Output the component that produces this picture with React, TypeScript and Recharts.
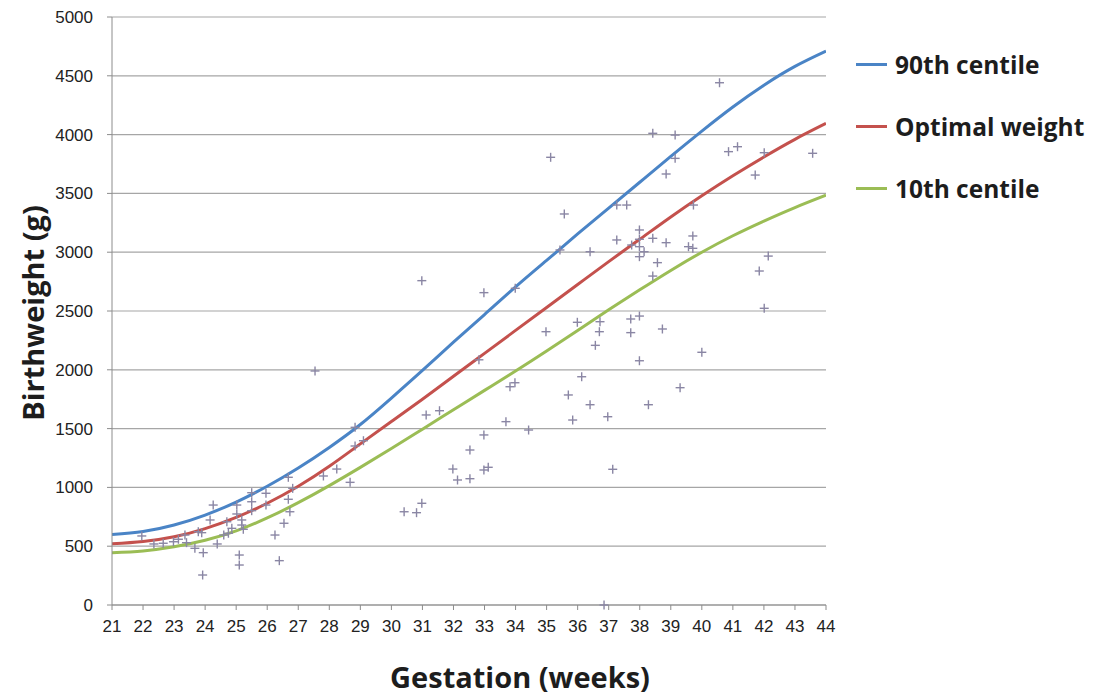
import React from 'react';
import {
  ComposedChart,
  Line,
  Scatter,
  XAxis,
  YAxis,
  CartesianGrid,
} from 'recharts';

const weeks = [21, 22, 23, 24, 25, 26, 27, 28, 29, 30, 31, 32, 33, 34, 35, 36, 37, 38, 39, 40, 41, 42, 43, 44];
const centile90 = [600, 625, 680, 765, 875, 1010, 1165, 1340, 1535, 1760, 1995, 2235, 2470, 2705, 2930, 3155, 3375, 3595, 3815, 4030, 4235, 4420, 4580, 4710];
const optimal = [520, 540, 580, 650, 745, 865, 1010, 1180, 1370, 1560, 1750, 1945, 2140, 2335, 2530, 2725, 2920, 3110, 3300, 3480, 3650, 3810, 3960, 4095];
const centile10 = [445, 460, 495, 550, 630, 740, 870, 1015, 1170, 1330, 1495, 1660, 1825, 1990, 2160, 2335, 2510, 2680, 2845, 3000, 3140, 3265, 3380, 3485];

const babyWeeks = [
  21.96, 22.35, 22.65, 22.98, 23.14, 23.35, 23.4, 23.67, 23.78, 23.89, 23.94, 23.92,
  24.26, 24.16, 24.39, 24.7, 24.75, 24.6, 24.86, 25.02, 25.02, 25.18, 25.18, 25.23,
  25.1, 25.1, 25.5, 25.5, 25.5, 25.96, 25.96, 26.25, 26.39, 26.68, 26.68, 26.73,
  26.54, 26.82, 27.54, 27.81, 28.24, 28.67, 28.83, 28.83, 29.1, 30.41, 30.81, 30.98,
  30.98, 31.12, 31.55, 31.98, 32.13, 32.53, 32.53, 32.82, 32.98, 32.98, 32.98, 33.12,
  33.69, 33.82, 33.98, 33.99, 34.42, 34.98, 35.13, 35.43, 35.57, 35.7, 35.84, 35.99,
  36.13, 36.4, 36.4, 36.57, 36.7, 36.72, 36.85, 36.97, 37.13, 37.26, 37.26, 37.58,
  37.71, 37.71, 37.74, 37.99, 37.99, 37.99, 37.99, 37.99, 37.99, 38.14, 38.28, 38.42,
  38.42, 38.42, 38.57, 38.73, 38.85, 38.85, 39.14, 39.14, 39.3, 39.57, 39.71, 39.71,
  39.73, 40.0, 40.57, 40.86, 41.15, 41.72, 41.85, 42.01, 42.01, 42.14, 43.57,
];
const babyWeights = [
  587, 519, 525, 538, 559, 595, 530, 482, 623, 615, 445, 255,
  850, 723, 519, 708, 610, 595, 652, 850, 774, 723, 680, 644,
  425, 340, 955, 878, 802, 950, 850, 595, 377, 1086, 899, 793,
  695, 992, 1990, 1097, 1156, 1043, 1511, 1352, 1397, 793, 785, 865,
  2758, 1616, 1652, 1156, 1063, 1318, 1074, 2085, 2656, 1446, 1148, 1171,
  1559, 1856, 1890, 2693, 1488, 2324, 3807, 3019, 3325, 1786, 1573, 2404,
  1941, 3004, 1703, 2208, 2324, 2409, 0, 1601, 1154, 3401, 3104, 3401,
  2432, 2316, 3061, 3189, 3110, 3047, 2962, 2457, 2077, 3004, 1703, 4011,
  3118, 2797, 2911, 2347, 3665, 3081, 3996, 3798, 1848, 3047, 3033, 3138,
  3401, 2149, 4441, 3855, 3897, 3656, 2840, 3846, 2523, 2967, 3841,
];

const weightTicks = [0, 500, 1000, 1500, 2000, 2500, 3000, 3500, 4000, 4500, 5000];

const seriesInfo = [
  { name: '90th centile', color: '#4a84c6' },
  { name: 'Optimal weight', color: '#c4514d' },
  { name: '10th centile', color: '#9bbd55' },
];

const line90 = weeks.map((w, i) => ({ week: w, weight: centile90[i] }));
const lineOpt = weeks.map((w, i) => ({ week: w, weight: optimal[i] }));
const line10 = weeks.map((w, i) => ({ week: w, weight: centile10[i] }));
const babies = babyWeeks.map((w, i) => ({ week: w, weight: babyWeights[i] }));

const titleFont = '"Open Sans", "DejaVu Sans", sans-serif';
const tickFont = '"Liberation Sans", Arial, sans-serif';

const Cross = (props: any) => {
  const { cx, cy } = props;
  if (cx == null || cy == null) return null;
  return (
    <g stroke="#8a86a4" strokeWidth={1.4}>
      <line x1={cx - 4.5} y1={cy} x2={cx + 4.5} y2={cy} />
      <line x1={cx} y1={cy - 4.5} x2={cx} y2={cy + 4.5} />
    </g>
  );
};

// legend sits outside the chart so it does not eat into the plot area
const LegendBox = () => (
  <div
    style={{ position: 'absolute', left: 848, top: 26, width: 237, fontFamily: titleFont }}
  >
    {seriesInfo.map((s) => (
      <div
        key={s.name}
        style={{ display: 'flex', alignItems: 'center', height: 61.7, whiteSpace: 'nowrap' }}
      >
        <div style={{ width: 31, height: 3, background: s.color, marginRight: 8 }} />
        <span style={{ fontSize: 24.5, fontWeight: 700, color: '#1d1d1d' }}>{s.name}</span>
      </div>
    ))}
  </div>
);

const App = () => {
  return (
    <div style={{ position: 'relative', width: 1085, height: 687 }}>
      <ComposedChart
        width={1085}
        height={687}
        margin={{ top: 9, right: 267, bottom: 50, left: 34 }}
      >
        <CartesianGrid vertical={false} stroke="#a6a6a6" strokeWidth={1.2} />
        <XAxis
          dataKey="week"
          type="number"
          domain={[21, 44]}
          ticks={weeks}
          interval={0}
          height={40}
          stroke="#8c8c8c"
          tickSize={5}
          tickMargin={10}
          tick={{ fill: '#222', fontSize: 17, fontFamily: tickFont }}
          allowDataOverflow
        />
        <YAxis
          type="number"
          domain={[0, 5000]}
          ticks={weightTicks}
          interval={0}
          width={70}
          stroke="#8c8c8c"
          tickSize={5}
          tickMargin={14}
          tick={{ fill: '#222', fontSize: 17, fontFamily: tickFont }}
        />
        <Scatter
          data={babies}
          dataKey="weight"
          shape={<Cross />}
          isAnimationActive={false}
          legendType="none"
        />
        <Line
          data={line10}
          dataKey="weight"
          type="natural"
          stroke={seriesInfo[2].color}
          strokeWidth={3}
          dot={false}
          activeDot={false}
          isAnimationActive={false}
        />
        <Line
          data={lineOpt}
          dataKey="weight"
          type="natural"
          stroke={seriesInfo[1].color}
          strokeWidth={3}
          dot={false}
          activeDot={false}
          isAnimationActive={false}
        />
        <Line
          data={line90}
          dataKey="weight"
          type="natural"
          stroke={seriesInfo[0].color}
          strokeWidth={3}
          dot={false}
          activeDot={false}
          isAnimationActive={false}
        />
        <text
          x={24}
          y={305}
          transform="rotate(-90 24 305)"
          textAnchor="middle"
          dominantBaseline="central"
          style={{ fontFamily: titleFont, fontSize: 29, fontWeight: 700, fill: '#1d1d1d' }}
        >
          Birthweight (g)
        </text>
        <text
          x={512}
          y={680}
          textAnchor="middle"
          style={{ fontFamily: titleFont, fontSize: 29, fontWeight: 700, fill: '#1d1d1d' }}
        >
          Gestation (weeks)
        </text>
      </ComposedChart>
      <LegendBox />
    </div>
  );
};

export default App;
